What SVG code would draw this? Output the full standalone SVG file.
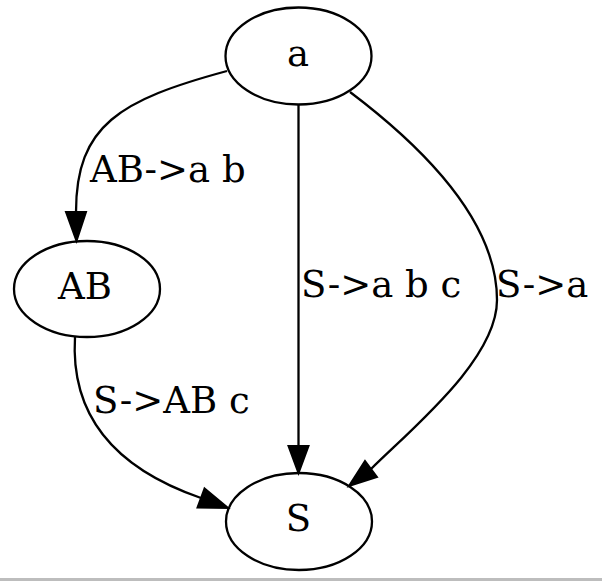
<svg xmlns="http://www.w3.org/2000/svg" width="602" height="581" viewBox="0 0 602 581">
<style>
.node ellipse{fill:none;stroke:#000;stroke-width:2.3}
text{font-family:"DejaVu Serif",serif;font-size:37px;fill:#000}
.node text{text-anchor:middle}
.edges path{fill:none;stroke:#000;stroke-width:2.3}
.edges polygon{fill:#000;stroke:#000;stroke-width:2}
</style>
<rect x="0" y="0" width="602" height="581" fill="#fff"/>
<g id="node-a" class="node">
<ellipse cx="298.5" cy="56" rx="73" ry="48.5"/>
<text x="298" y="65.5">a</text>
</g>
<g id="node-AB" class="node">
<ellipse cx="87" cy="289" rx="73" ry="48"/>
<text x="85" y="298.5">AB</text>
</g>
<g id="node-S" class="node">
<ellipse cx="299" cy="521.5" rx="73" ry="48.5"/>
<text x="298.5" y="530.5">S</text>
</g>
<g id="edges" class="edges">
<path d="M227,71 C120,100 76,125 76,212"/>
<polygon points="66,212 86,212 76.5,241"/>
<text x="90" y="182">AB-&gt;a b</text>
<path d="M298.5,104.5 L298.5,446"/>
<polygon points="288.5,446 308.5,446 298.5,473"/>
<text x="301" y="297">S-&gt;a b c</text>
<path d="M350,92 C440,160 497,230 497,300 C497,360 410,430 371,469"/>
<polygon points="377,477 365,461 349,486"/>
<text x="496" y="297">S-&gt;a</text>
<path d="M75,337 C70,420 120,470 201,498"/>
<polygon points="204.5,488.5 197.5,507.5 228,508"/>
<text x="93" y="413">S-&gt;AB c</text>
</g>
<rect x="0" y="578" width="602" height="3" fill="#bdbdbd"/>
</svg>
